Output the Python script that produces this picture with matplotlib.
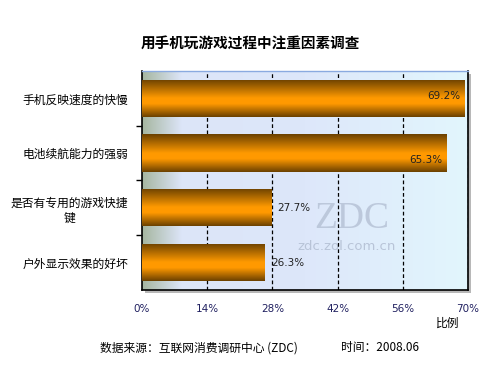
import numpy as np
import matplotlib

matplotlib.use("Agg")
import matplotlib.pyplot as plt
from matplotlib.colors import LinearSegmentedColormap
from matplotlib.patches import Rectangle

plt.rcParams["font.family"] = ["Noto Sans CJK SC", "DejaVu Sans"]

categories = ["手机反映速度的快慢", "电池续航能力的强弱", "是否有专用的游戏快捷\n键", "户外显示效果的好坏"]
values = [69.2, 65.3, 27.7, 26.3]
value_labels = ["69.2%", "65.3%", "27.7%", "26.3%"]
xticks = [0, 14, 28, 42, 56, 70]
xtick_labels = ["0%", "14%", "28%", "42%", "56%", "70%"]

fig = plt.figure(figsize=(5, 3.75), dpi=100)
fig.patch.set_facecolor("white")
ax = fig.add_axes([0.284, 0.2267, 0.652, 0.584], zorder=2)

# shadow behind the plot frame
fig.patches.append(Rectangle((0.284 + 0.006, 0.2267 - 0.008), 0.652, 0.584,
                             transform=fig.transFigure, facecolor="#b8b8b8",
                             edgecolor="none", zorder=0))

# background gradient: grey-green -> lavender -> pale cyan
bg_cmap = LinearSegmentedColormap.from_list(
    "bg", [(0, "#a6b6a0"), (0.12, "#dce5f8"), (0.5, "#dde7fa"), (1, "#e2f6fd")])
grad = np.linspace(0, 1, 256).reshape(1, -1)
ax.imshow(grad, cmap=bg_cmap, aspect="auto", extent=[0, 70, 3.5, -0.5], zorder=0)

# watermark
ax.text(45, 2.2, "ZDC", fontsize=27, color="#b4c0d4", ha="center", va="center",
        family="Liberation Serif", alpha=0.8, zorder=1)
ax.text(44, 2.7, "zdc.zol.com.cn", fontsize=9.5, color="#b4c0d4", ha="center",
        va="center", family="DejaVu Sans", alpha=0.9, zorder=1)

for x in xticks[1:]:
    ax.axvline(x, color="black", lw=0.9, ls=(0, (3, 2)), zorder=2)

bar_cmap = LinearSegmentedColormap.from_list(
    "bar", [(0, "#6a4000"), (0.5, "#ff9a00"), (0.65, "#ff9900"), (1, "#6a4000")])
vgrad = np.linspace(0, 1, 256).reshape(-1, 1)
bar_h = 0.68
bars = ax.barh(range(len(values)), values, height=bar_h, color="none", zorder=3)
for i, b in enumerate(bars):
    im = ax.imshow(vgrad, cmap=bar_cmap, aspect="auto",
                   extent=[0, values[i], i + bar_h / 2, i - bar_h / 2], zorder=3)
    im.set_clip_path(b)

label_pos = [(values[0] - 0.8, 0 - 0.05, "right"), (values[1] - 0.8, 1 + 0.13, "right"),
             (values[2] + 1.4, 2, "left"), (values[3] + 1.5, 3, "left")]
for (x, y, ha), lab in zip(label_pos, value_labels):
    ax.text(x, y, lab, fontsize=7.5, color="#222222", ha=ha, va="center", zorder=4,
            family="DejaVu Sans")

ax.set_xlim(0, 70)
ax.set_ylim(3.5, -0.5)

ax.set_yticks(range(len(categories)))
ax.set_yticklabels(categories, fontsize=8.5)
ax.tick_params(axis="y", length=0, pad=10)
ax.set_yticks([0.5, 1.5, 2.5], minor=True)
ax.tick_params(axis="y", which="minor", length=4, width=1)
for lab in ax.get_yticklabels():
    lab.set_multialignment("center")

ax.set_xticks(xticks)
ax.set_xticklabels(xtick_labels, fontsize=7.5, color="#202060", family="DejaVu Sans")
ax.tick_params(axis="x", length=0, pad=10)

for side in ["left", "bottom", "right"]:
    ax.spines[side].set_color("black")
    ax.spines[side].set_linewidth(1.2)
ax.spines["top"].set_color("#8aaae0")
ax.spines["top"].set_linewidth(1.0)

fig.text(0.5, 0.885, "用手机玩游戏过程中注重因素调查", fontsize=10.5, weight="bold",
         ha="center", va="center")
fig.text(0.896, 0.139, "比例", fontsize=8.5, ha="center", va="center")
fig.text(0.2, 0.072, "数据来源：互联网消费调研中心 (ZDC)", fontsize=8.5, ha="left", va="center")
fig.text(0.682, 0.072, "时间：2008.06", fontsize=8.5, ha="left", va="center")

fig.savefig("out.png", dpi=100)
